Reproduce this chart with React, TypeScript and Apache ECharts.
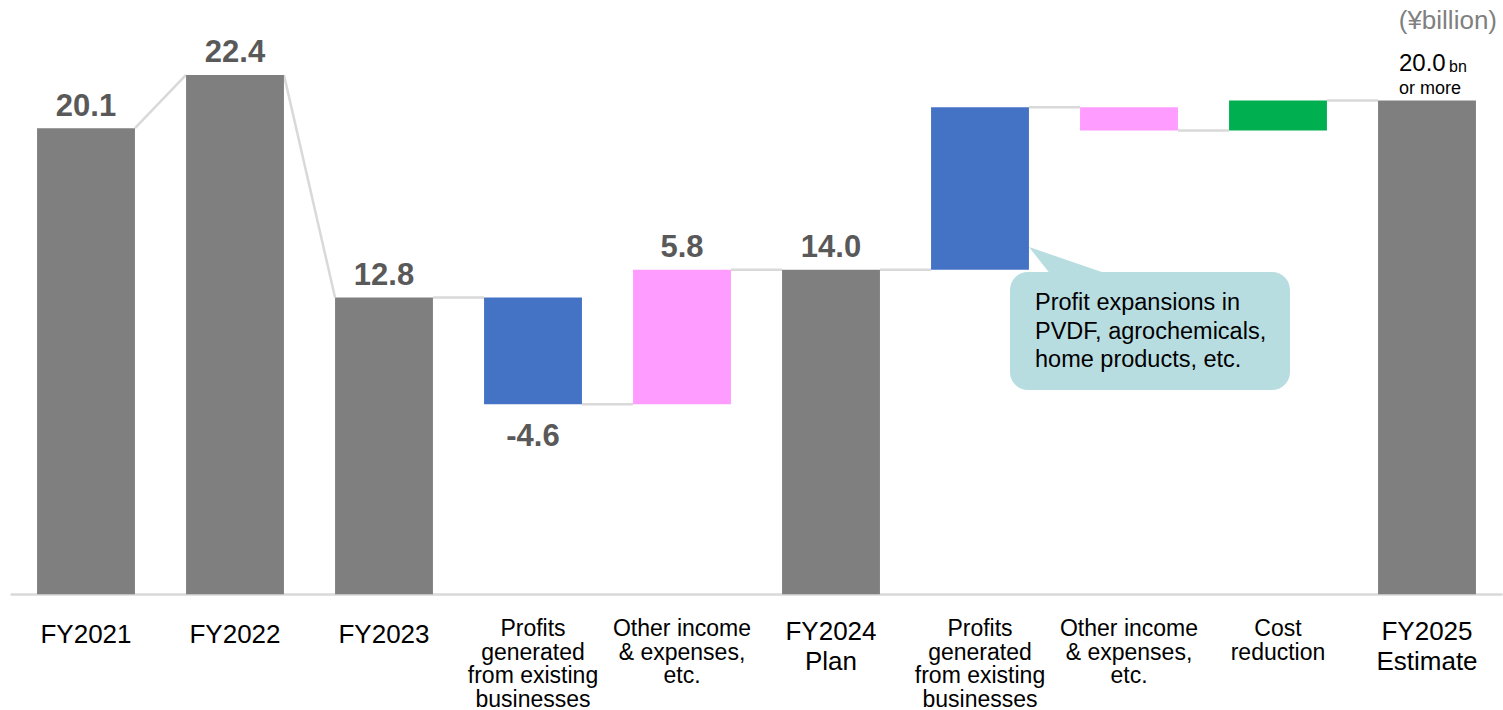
import React, { useEffect, useRef } from "react";
import * as echarts from "echarts";

const categories = [
  "FY2021",
  "FY2022",
  "FY2023",
  "Profits\ngenerated\nfrom existing\nbusinesses",
  "Other income\n& expenses,\netc.",
  "FY2024\nPlan",
  "Profits\ngenerated\nfrom existing\nbusinesses",
  "Other income\n& expenses,\netc.",
  "Cost\nreduction",
  "FY2025\nEstimate",
];
const values = [20.1, 22.4, 12.8, -4.6, 5.8, 14.0, 7.0, -1.0, 1.3, 21.3];
const kinds = ["total", "total", "total", "delta", "delta", "total", "delta", "delta", "delta", "total"];
const barColors = [
  "#7f7f7f", "#7f7f7f", "#7f7f7f", "#4472c4", "#ff9cff",
  "#7f7f7f", "#4472c4", "#ff9cff", "#00b050", "#7f7f7f",
];
const valueLabels = ["20.1", "22.4", "12.8", "-4.6", "5.8", "14.0", "", "", "", "20.0"];
const lastLabelUnit = "bn";
const lastLabelNote = "or more";
const unitLabel = "(¥billion)";
const calloutText = "Profit expansions in\nPVDF, agrochemicals,\nhome products, etc.";

const FONT = "'Liberation Sans', Arial, Helvetica, sans-serif";
const BAR_RATIO = 0.657;

function buildData() {
  const bars: number[][] = [];
  const starts: number[] = [];
  const ends: number[] = [];
  let running = 0;
  values.forEach((v, i) => {
    if (kinds[i] === "total") {
      bars.push([i, 0, v]);
      starts.push(v);
      ends.push(v);
      running = v;
    } else {
      const s = running;
      const e = running + v;
      bars.push([i, Math.min(s, e), Math.max(s, e)]);
      starts.push(s);
      ends.push(e);
      running = e;
    }
  });
  const links: number[][] = [];
  for (let i = 0; i < values.length - 1; i++) {
    links.push([i, ends[i], starts[i + 1]]);
  }
  return { bars, links };
}

export default function App() {
  const ref = useRef<HTMLDivElement>(null);
  useEffect(() => {
    if (!ref.current) return;
    const chart = echarts.init(ref.current, null, { renderer: "svg" });
    const { bars, links } = buildData();
    const last = values.length - 1;

    const option: any = {
      animation: false,
      backgroundColor: "#ffffff",
      grid: { left: 11.5, right: 1.5, top: 37.8, bottom: 114, containLabel: false },
      xAxis: {
        type: "category",
        data: categories,
        axisLine: { show: true, lineStyle: { color: "#d9d9d9", width: 2.5 } },
        axisTick: { show: false },
        axisLabel: {
          interval: 0,
          margin: 22,
          color: "#000000",
          fontFamily: FONT,
          formatter: (val: string, idx: number) => {
            const lines = val.split("\n");
            let tag = "b";
            if (kinds[idx] === "total") tag = lines.length === 1 ? "a" : "f";
            return lines.map((l) => `{${tag}|${l}}`).join("\n");
          },
          rich: {
            a: { fontSize: 26, lineHeight: 36, fontFamily: FONT, color: "#000" },
            f: { fontSize: 26, lineHeight: 29.5, fontFamily: FONT, color: "#000" },
            b: { fontSize: 23, lineHeight: 23.5, fontFamily: FONT, color: "#000" },
          },
        },
      },
      yAxis: { type: "value", min: 0, max: 24, show: false, splitLine: { show: false } },
      series: [
        {
          type: "custom",
          name: "links",
          z: 1,
          data: links,
          encode: { x: 0, y: [1, 2] },
          renderItem: (params: any, api: any) => {
            const i = api.value(0);
            const a = api.coord([i, api.value(1)]);
            const b = api.coord([i + 1, api.value(2)]);
            const bw = api.size([1, 0])[0] * BAR_RATIO;
            return {
              type: "line",
              shape: { x1: a[0] + bw / 2, y1: a[1], x2: b[0] - bw / 2, y2: b[1] },
              style: { stroke: "#d9d9d9", lineWidth: 2.5 },
            };
          },
        },
        {
          type: "custom",
          name: "bars",
          z: 2,
          data: bars,
          encode: { x: 0, y: [1, 2] },
          renderItem: (params: any, api: any) => {
            const i = api.value(0);
            const pTop = api.coord([i, api.value(2)]);
            const pBot = api.coord([i, api.value(1)]);
            const bw = api.size([1, 0])[0] * BAR_RATIO;
            const children: any[] = [
              {
                type: "rect",
                shape: { x: pTop[0] - bw / 2, y: pTop[1], width: bw, height: pBot[1] - pTop[1] },
                style: { fill: barColors[i] },
              },
            ];
            const lbl = valueLabels[i];
            if (i === last && lbl) {
              children.push({
                type: "text",
                x: pTop[0] - 28,
                y: pTop[1] - 26,
                style: {
                  text: `{a|${lbl}} {b|${lastLabelUnit}}`,
                  align: "left",
                  verticalAlign: "bottom",
                  rich: {
                    a: { fontSize: 24, fontFamily: FONT, fill: "#000", verticalAlign: "bottom", lineHeight: 27 },
                    b: { fontSize: 16, fontFamily: FONT, fill: "#000", verticalAlign: "bottom", lineHeight: 22 },
                  },
                },
              });
              children.push({
                type: "text",
                x: pTop[0] - 28,
                y: pTop[1] - 12,
                style: {
                  text: lastLabelNote,
                  align: "left",
                  verticalAlign: "middle",
                  fontSize: 18,
                  fontFamily: FONT,
                  fill: "#000",
                },
              });
            } else if (lbl) {
              const neg = values[i] < 0;
              children.push({
                type: "text",
                x: pTop[0],
                y: neg ? pBot[1] + 31 : pTop[1] - 23,
                style: {
                  text: lbl,
                  align: "center",
                  verticalAlign: "middle",
                  fontSize: 31,
                  fontWeight: "bold",
                  fontFamily: FONT,
                  fill: "#595959",
                },
              });
            }
            return { type: "group", children };
          },
        },
      ],
      graphic: [
        {
          type: "text",
          right: 6,
          top: 7,
          style: { text: unitLabel, fontSize: 26, fontFamily: FONT, fill: "#808080" },
        },
        {
          type: "group",
          children: [
            {
              type: "polygon",
              shape: { points: [[1029, 247], [1055, 280], [1125, 280]] },
              style: { fill: "#b8dde1" },
            },
            {
              type: "rect",
              shape: { x: 1010, y: 272, width: 280, height: 118, r: 18 },
              style: { fill: "#b8dde1" },
            },
            {
              type: "text",
              x: 1035,
              y: 287.75,
              style: {
                text: calloutText,
                fontSize: 23.5,
                lineHeight: 28.5,
                fontFamily: FONT,
                fill: "#000",
                align: "left",
                verticalAlign: "top",
              },
            },
          ],
        },
      ],
    };
    chart.setOption(option);
    return () => chart.dispose();
  }, []);

  return (
    <div
      ref={ref}
      style={{ position: "absolute", left: 0, top: 0, width: 1503, height: 710, background: "#fff" }}
    />
  );
}
